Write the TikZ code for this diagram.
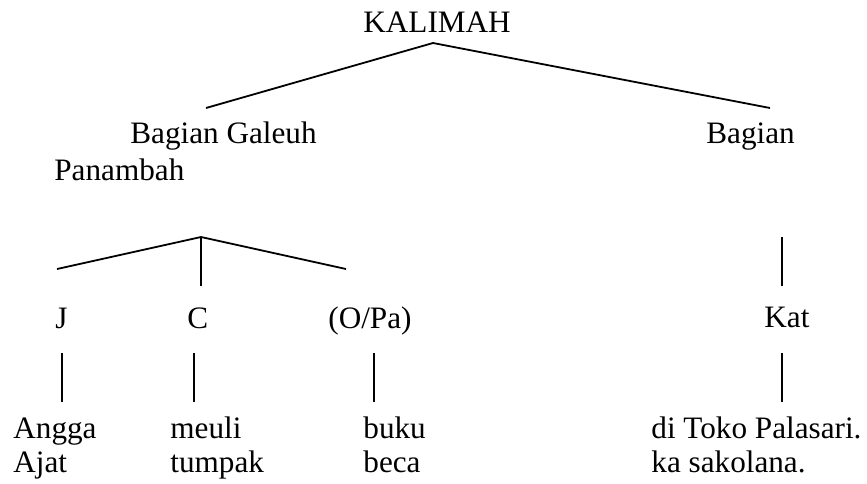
\documentclass[tikz,border=0pt]{standalone}
\usepackage{fontspec}
\setmainfont{Liberation Serif}
\usetikzlibrary{positioning}
\tikzset{word/.style={inner sep=0pt, anchor=base west, font=\fontsize{15.6}{17}\selectfont},
  branch/.style={draw, line width=0.9pt}}
\begin{document}
\begin{tikzpicture}[x=0.5pt,y=-0.5pt]
\useasboundingbox (0,0) rectangle (867,483);
 % labels
 \node [word] (kalimah) at (363,32) {KALIMAH};
 \node [word] (galeuh) at (130,143) {Bagian Galeuh};
 \node [word] (panambah) at (54,180) {Panambah};
 \node [word] (bagian) at (706,143) {Bagian};
 \node [word] (jejer) at (55,328) {J};
 \node [word] (caritaan) at (187,328) {C};
 \node [word] (obyek) at (328,328) {(O/Pa)};
 \node [word] (katerangan) at (764,327) {Kat};
 \node [word] (angga) at (13,438) {Angga};
 \node [word, below=17pt of angga.base west, anchor=base west] (ajat) {Ajat};
 \node [word] (meuli) at (170,438) {meuli};
 \node [word, below=17pt of meuli.base west, anchor=base west] (tumpak) {tumpak};
 \node [word] (buku) at (363,438) {buku};
 \node [word, below=17pt of buku.base west, anchor=base west] (beca) {beca};
 \node [word] (toko) at (651,438) {di Toko Palasari.};
 \node [word, below=17pt of toko.base west, anchor=base west] (sakolana) {ka sakolana.};
 % branch ends
 \coordinate (kal-fork) at (433,43);
 \coordinate (galeuh-top) at (206,108);
 \coordinate (bagian-top) at (770,108);
 \coordinate (low-fork) at (201,237);
 \coordinate (jejer-top) at (57,269);
 \coordinate (obyek-top) at (346,269);
 \coordinate (caritaan-top) at (201,286);
 \coordinate (kat-a) at (782,237);
 \coordinate (kat-b) at (782,286);
 \coordinate (jejer-a) at (62,353);
 \coordinate (jejer-b) at (62,402);
 \coordinate (caritaan-a) at (194,353);
 \coordinate (caritaan-b) at (194,402);
 \coordinate (obyek-a) at (374,353);
 \coordinate (obyek-b) at (374,402);
 \coordinate (kat-c) at (782,353);
 \coordinate (kat-d) at (782,402);
 \path [branch] (galeuh-top) -- (kal-fork) -- (bagian-top);
 \path [branch] (jejer-top) -- (low-fork) -- (obyek-top);
 \path [branch] (low-fork) -- (caritaan-top);
 \path [branch] (kat-a) -- (kat-b);
 \path [branch] (jejer-a) -- (jejer-b);
 \path [branch] (caritaan-a) -- (caritaan-b);
 \path [branch] (obyek-a) -- (obyek-b);
 \path [branch] (kat-c) -- (kat-d);
\end{tikzpicture}
\end{document}
